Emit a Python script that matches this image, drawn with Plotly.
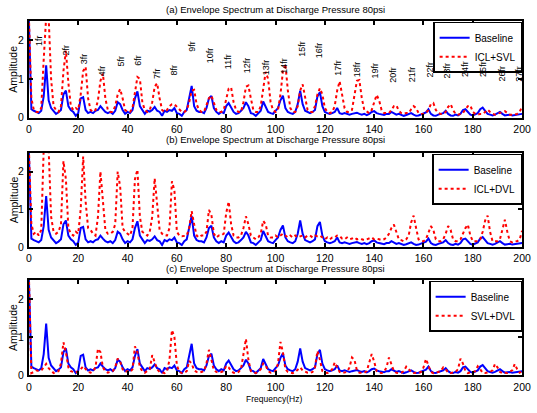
import plotly.graph_objects as go

# ---------------- data ----------------
freq = list(range(0, 201))  # Hz, 1 Hz resolution

baseline = [
    2.5, 0.22, 0.18, 0.15, 0.12, 0.18, 0.55, 1.35, 0.45, 0.25,
    0.18, 0.10, 0.14, 0.20, 0.60, 0.70, 0.30, 0.20, 0.15, 0.05,
    0.12, 0.50, 0.53, 0.20, 0.12, 0.15, 0.12, 0.18, 0.20, 0.30,
    0.22, 0.15, 0.12, 0.15, 0.10, 0.18, 0.40, 0.35, 0.20, 0.10,
    0.15, 0.12, 0.20, 0.50, 0.68, 0.30, 0.20, 0.10, 0.18, 0.16,
    0.20, 0.28, 0.18, 0.15, 0.05, 0.18, 0.15, 0.20, 0.18, 0.25,
    0.12, 0.10, 0.05, 0.15, 0.20, 0.50, 0.82, 0.30, 0.18, 0.15,
    0.15, 0.12, 0.25, 0.50, 0.56, 0.25, 0.15, 0.10, 0.15, 0.12,
    0.30, 0.38, 0.25, 0.15, 0.10, 0.12, 0.18, 0.25, 0.40, 0.30,
    0.12, 0.10, 0.05, 0.12, 0.18, 0.42, 0.30, 0.15, 0.12, 0.10,
    0.18, 0.25, 0.45, 0.57, 0.25, 0.15, 0.12, 0.10, 0.15, 0.35,
    0.70, 0.35, 0.18, 0.15, 0.12, 0.15, 0.20, 0.55, 0.66, 0.30,
    0.15, 0.12, 0.10, 0.12, 0.15, 0.25, 0.12, 0.10, 0.12, 0.10,
    0.08, 0.10, 0.12, 0.13, 0.10, 0.08, 0.10, 0.07, 0.10, 0.15,
    0.17, 0.12, 0.10, 0.08, 0.07, 0.10, 0.10, 0.15, 0.12, 0.08,
    0.10, 0.08, 0.05, 0.07, 0.10, 0.12, 0.08, 0.05, 0.06, 0.08,
    0.10, 0.14, 0.22, 0.10, 0.06, 0.05, 0.08, 0.10, 0.12, 0.18,
    0.10, 0.06, 0.05, 0.08, 0.06, 0.10, 0.20, 0.22, 0.15, 0.08,
    0.06, 0.08, 0.12, 0.22, 0.26, 0.18, 0.10, 0.08, 0.06, 0.08,
    0.12, 0.15, 0.10, 0.06, 0.07, 0.08, 0.06, 0.07, 0.08, 0.10,
    0.10,
]

icl_svl = [
    2.6, 0.50, 0.20, 0.15, 0.15, 0.25, 1.50, 2.60, 2.60, 1.00,
    0.30, 0.20, 0.15, 0.30, 1.20, 1.73, 0.90, 0.30, 0.20, 0.25,
    0.20, 0.60, 1.20, 1.31, 0.50, 0.20, 0.15, 0.20, 0.45, 0.95,
    1.14, 0.50, 0.20, 0.15, 0.15, 0.30, 0.60, 0.74, 0.50, 0.20,
    0.15, 0.15, 0.25, 0.70, 1.05, 1.00, 0.40, 0.20, 0.15, 0.20,
    0.40, 0.80, 0.89, 0.50, 0.20, 0.15, 0.20, 0.30, 0.35, 0.35,
    0.28, 0.20, 0.15, 0.15, 0.20, 0.40, 0.70, 0.72, 0.35, 0.20,
    0.15, 0.15, 0.30, 0.50, 0.57, 0.40, 0.20, 0.15, 0.15, 0.20,
    0.45, 0.75, 0.78, 0.40, 0.20, 0.15, 0.15, 0.40, 0.80, 0.83,
    0.50, 0.20, 0.15, 0.15, 0.30, 0.80, 1.18, 1.00, 0.40, 0.20,
    0.15, 0.20, 0.60, 1.20, 1.39, 0.70, 0.25, 0.15, 0.15, 0.30,
    0.70, 0.86, 0.50, 0.20, 0.15, 0.15, 0.30, 0.60, 0.76, 0.60,
    0.25, 0.15, 0.12, 0.15, 0.30, 0.70, 0.94, 0.60, 0.25, 0.15,
    0.15, 0.20, 0.60, 0.95, 0.97, 0.50, 0.20, 0.15, 0.12, 0.20,
    0.40, 0.59, 0.45, 0.20, 0.12, 0.12, 0.12, 0.20, 0.30, 0.32,
    0.18, 0.12, 0.10, 0.12, 0.12, 0.22, 0.30, 0.25, 0.12, 0.10,
    0.10, 0.12, 0.20, 0.35, 0.38, 0.20, 0.12, 0.10, 0.10, 0.15,
    0.28, 0.35, 0.20, 0.10, 0.08, 0.10, 0.12, 0.22, 0.30, 0.32,
    0.15, 0.10, 0.08, 0.10, 0.10, 0.15, 0.21, 0.15, 0.10, 0.08,
    0.10, 0.12, 0.15, 0.17, 0.12, 0.08, 0.08, 0.08, 0.10, 0.15,
    0.30,
]

icl_dvl = [
    2.6, 0.60, 0.35, 0.40, 0.30, 0.45, 2.60, 2.60, 2.60, 0.80,
    0.40, 0.35, 0.40, 0.60, 2.28, 1.80, 0.50, 0.35, 0.30, 0.40,
    0.35, 1.00, 2.40, 1.20, 0.50, 0.45, 0.35, 0.30, 0.80, 2.00,
    1.30, 0.45, 0.35, 0.35, 0.40, 0.60, 2.00, 1.60, 0.50, 0.40,
    0.35, 0.30, 0.50, 1.80, 2.05, 0.80, 0.40, 0.35, 0.30, 0.40,
    0.80, 1.82, 1.20, 0.45, 0.35, 0.30, 0.30, 0.50, 1.74, 1.50,
    0.40, 0.30, 0.28, 0.30, 0.30, 0.50, 0.95, 0.60, 0.30, 0.25,
    0.30, 0.30, 0.40, 0.98, 0.85, 0.35, 0.25, 0.30, 0.30, 0.35,
    0.90, 1.20, 0.60, 0.30, 0.25, 0.25, 0.30, 0.50, 0.81, 0.60,
    0.30, 0.25, 0.20, 0.25, 0.35, 0.69, 0.60, 0.30, 0.25, 0.25,
    0.30, 0.25, 0.30, 0.35, 0.30, 0.25, 0.30, 0.25, 0.30, 0.25,
    0.28, 0.30, 0.25, 0.30, 0.30, 0.25, 0.30, 0.28, 0.30, 0.25,
    0.20, 0.25, 0.20, 0.25, 0.25, 0.30, 0.29, 0.22, 0.20, 0.25,
    0.20, 0.22, 0.25, 0.20, 0.22, 0.20, 0.18, 0.20, 0.22, 0.25,
    0.20, 0.22, 0.20, 0.18, 0.20, 0.25, 0.35, 0.50, 0.59, 0.40,
    0.20, 0.18, 0.15, 0.20, 0.30, 0.65, 0.83, 0.50, 0.20, 0.15,
    0.15, 0.20, 0.35, 0.55, 0.45, 0.20, 0.15, 0.15, 0.20, 0.35,
    0.55, 0.45, 0.20, 0.15, 0.15, 0.20, 0.35, 0.50, 0.59, 0.30,
    0.15, 0.15, 0.15, 0.20, 0.40, 0.70, 0.83, 0.40, 0.15, 0.15,
    0.15, 0.20, 0.45, 0.72, 0.40, 0.15, 0.12, 0.15, 0.15, 0.20,
    0.43,
]

svl_dvl = [
    2.6, 0.05, 0.08, 0.12, 0.10, 0.12, 0.20, 0.29, 0.18, 0.10,
    0.05, 0.08, 0.10, 0.30, 0.86, 0.60, 0.20, 0.10, 0.08, 0.06,
    0.10, 0.15, 0.23, 0.15, 0.08, 0.06, 0.10, 0.20, 0.69, 0.60,
    0.20, 0.10, 0.06, 0.08, 0.10, 0.20, 0.43, 0.35, 0.15, 0.08,
    0.10, 0.08, 0.15, 0.75, 0.60, 0.20, 0.10, 0.06, 0.10, 0.15,
    0.52, 0.35, 0.15, 0.08, 0.06, 0.05, 0.10, 0.40, 1.18, 1.00,
    0.25, 0.08, 0.05, 0.06, 0.10, 0.37, 0.30, 0.12, 0.08, 0.06,
    0.08, 0.10, 0.30, 0.66, 0.40, 0.12, 0.08, 0.06, 0.08, 0.10,
    0.24, 0.20, 0.10, 0.06, 0.05, 0.08, 0.15, 0.60, 0.95, 0.40,
    0.10, 0.06, 0.05, 0.08, 0.15, 0.30, 0.25, 0.10, 0.06, 0.08,
    0.10, 0.30, 0.87, 0.60, 0.15, 0.08, 0.06, 0.05, 0.08, 0.15,
    0.20, 0.12, 0.08, 0.06, 0.05, 0.08, 0.20, 0.63, 0.40, 0.10,
    0.06, 0.05, 0.08, 0.15, 0.33, 0.20, 0.08, 0.05, 0.06, 0.08,
    0.20, 0.46, 0.40, 0.12, 0.06, 0.05, 0.06, 0.10, 0.30, 0.55,
    0.35, 0.10, 0.06, 0.05, 0.08, 0.20, 0.46, 0.30, 0.10, 0.06,
    0.05, 0.06, 0.10, 0.22, 0.15, 0.08, 0.05, 0.06, 0.05, 0.08,
    0.20, 0.42, 0.25, 0.08, 0.05, 0.06, 0.08, 0.10, 0.20, 0.15,
    0.06, 0.05, 0.06, 0.08, 0.15, 0.43, 0.30, 0.10, 0.05, 0.06,
    0.08, 0.10, 0.23, 0.15, 0.06, 0.05, 0.06, 0.08, 0.12, 0.29,
    0.20, 0.08, 0.05, 0.06, 0.05, 0.08, 0.12, 0.29, 0.15, 0.06,
    0.10,
]

# harmonic labels of panel (a): text, frequency, amplitude where the label sits
harm_text = ["1fr", "2fr", "3fr", "4fr", "5fr", "6fr", "7fr", "8fr", "9fr",
             "10fr", "11fr", "12fr", "13fr", "14fr", "15fr", "16fr", "17fr",
             "18fr", "19fr", "20fr", "21fr", "22fr", "23fr", "24fr", "25fr",
             "26fr", "27fr"]
harm_x = [4.3, 14.9, 22.1, 29.7, 37.3, 44.3, 51.9, 58.9, 66.1, 73.4, 81.0,
          88.6, 96.1, 103.4, 110.4, 117.7, 125.4, 132.9, 140.4, 147.8, 155.3,
          162.6, 169.6, 177.1, 184.4, 191.7, 198.7]
harm_y = [1.99, 1.75, 1.52, 1.20, 1.47, 1.47, 1.15, 1.22, 1.85, 1.61, 1.45,
          1.36, 1.30, 1.34, 1.78, 1.74, 1.29, 1.24, 1.22, 1.12, 1.12, 1.24,
          1.22, 1.25, 1.25, 1.13, 1.13]

panel_titles = ["(a) Envelope Spectrum at Discharge Pressure 80psi",
                "(b) Envelope Spectrum at Discharge Pressure 80psi",
                "(c) Envelope Spectrum at Discharge Pressure 80psi"]
fault_series = [("ICL+SVL", icl_svl), ("ICL+DVL", icl_dvl), ("SVL+DVL", svl_dvl)]
x_ticks = [0, 20, 40, 60, 80, 100, 120, 140, 160, 180, 200]
y_ticks = [0, 1, 2]

for arr in (baseline, icl_svl, icl_dvl, svl_dvl):
    assert len(arr) == len(freq)

# ---------------- figure ----------------
W, H = 537, 413
FONT = "Liberation Sans, Arial, sans-serif"

x_dom = [26.5 / W, 531.0 / W]
panels_px = [(21.0, 119.5), (155.0, 250.5), (284.0, 380.5)]  # top, bottom
y_doms = [[1 - b / H, 1 - t / H] for t, b in panels_px]
title_px = [9.5, 141.7, 272.0]

fig = go.Figure()
layout = dict(
    width=W, height=H,
    margin=dict(l=0, r=0, t=0, b=0),
    paper_bgcolor="white", plot_bgcolor="white",
    font=dict(family=FONT, size=10, color="black"),
    showlegend=True,
)
annotations = []
legend_names = ["legend", "legend2", "legend3"]

for i in range(3):
    xa = "xaxis" if i == 0 else f"xaxis{i + 1}"
    ya = "yaxis" if i == 0 else f"yaxis{i + 1}"
    xr = "x" if i == 0 else f"x{i + 1}"
    yr = "y" if i == 0 else f"y{i + 1}"
    lg = legend_names[i]
    name, values = fault_series[i]

    fig.add_trace(go.Scatter(x=freq, y=baseline, mode="lines", name="Baseline",
                             line=dict(color="#0000ff", width=2),
                             xaxis=xr, yaxis=yr, legend=lg))
    fig.add_trace(go.Scatter(x=freq, y=values, mode="lines", name=name,
                             line=dict(color="#ff0000", width=2, dash="dot"),
                             xaxis=xr, yaxis=yr, legend=lg))

    layout[xa] = dict(domain=x_dom, range=[0, 200], tickvals=x_ticks,
                      ticks="inside", ticklen=4, tickwidth=1.5, tickcolor="black",
                      showline=True, linecolor="black", linewidth=2, mirror="ticks",
                      showgrid=False, zeroline=False, anchor=yr,
                      tickfont=dict(size=10.5), ticklabelstandoff=1,
                      ticklabeloverflow="allow")
    layout[ya] = dict(domain=y_doms[i], range=[0, 2.5], tickvals=y_ticks,
                      ticks="inside", ticklen=4, tickwidth=1.5, tickcolor="black",
                      showline=True, linecolor="black", linewidth=2, mirror="ticks",
                      showgrid=False, zeroline=False, anchor=xr,
                      tickfont=dict(size=10.5), ticklabelstandoff=1,
                      ticklabeloverflow="allow")
    layout[lg] = dict(x=x_dom[1], xanchor="right", xref="paper",
                      y=y_doms[i][1] - 1.0 / H, yanchor="top", yref="paper",
                      bgcolor="white", bordercolor="black", borderwidth=1.5,
                      font=dict(size=10), tracegroupgap=0)

    annotations.append(dict(text=panel_titles[i], xref="paper", yref="paper",
                            x=(x_dom[0] + x_dom[1]) / 2, y=1 - title_px[i] / H,
                            showarrow=False, font=dict(size=9.5),
                            xanchor="center", yanchor="middle"))
    annotations.append(dict(text="Amplitude", xref="paper", yref="paper",
                            x=10.7 / W, y=(y_doms[i][0] + y_doms[i][1]) / 2,
                            textangle=-90, showarrow=False, font=dict(size=10.5),
                            xanchor="center", yanchor="middle"))

for t, hx, hy in zip(harm_text, harm_x, harm_y):
    annotations.append(dict(text=t, x=hx, y=hy, xref="x", yref="y",
                            textangle=-90, showarrow=False,
                            font=dict(size=9), xanchor="center", yanchor="middle"))

annotations.append(dict(text="Frequency(Hz)", xref="paper", yref="paper",
                        x=277 / W, y=1 - 405 / H, showarrow=False,
                        font=dict(size=8.5), xanchor="center", yanchor="middle"))

layout["annotations"] = annotations
fig.update_layout(**layout)
fig.write_html("out.html", config={"displayModeBar": False},
               post_script="document.body.style.margin='0';")
